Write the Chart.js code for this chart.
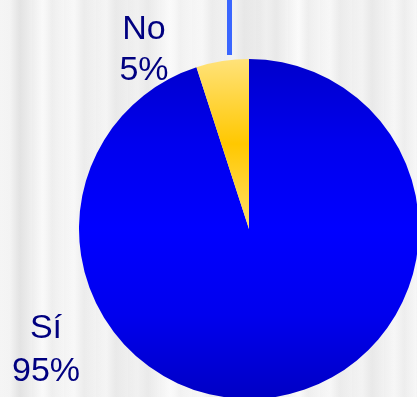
<!DOCTYPE html>
<html>
<head>
<meta charset="utf-8">
<script src="https://cdn.jsdelivr.net/npm/chart.js@4/dist/chart.umd.min.js"></script>
<style>
  html, body { margin: 0; padding: 0; }
  #stage {
    position: relative;
    width: 417px;
    height: 397px;
    overflow: hidden;
    background:
      linear-gradient(90deg, rgba(255,255,255,0) 0px, rgba(200,200,200,0.3) 20px, rgba(255,255,255,0) 45px,
        rgba(210,210,210,0.25) 140px, rgba(255,255,255,0.2) 175px, rgba(205,205,205,0.3) 260px,
        rgba(255,255,255,0) 300px, rgba(215,215,215,0.25) 370px, rgba(255,255,255,0) 417px),
      repeating-linear-gradient(90deg, #f5f5f5 0px, #fbfbfb 10px, #efefef 20px, #f7f7f7 32px),
      #f3f3f3;
  }
  #pieWrap {
    position: absolute;
    left: 77px;
    top: 57px;
    width: 344px;
    height: 344px;
  }
  .lbl {
    position: absolute;
    font-family: "Liberation Sans", Arial, sans-serif;
    font-size: 34px;
    color: #000080;
    text-align: center;
    width: 100px;
  }
  #lblNo { left: 94px; top: 7px; line-height: 41px; }
  #lblSi { left: -4px; top: 305px; line-height: 43px; }
  #marker {
    position: absolute;
    left: 227px;
    top: 0;
    width: 5px;
    height: 55px;
    background: #3a66ff;
  }
</style>
</head>
<body>
<div id="stage">
  <div id="marker"></div>
  <div id="pieWrap"><canvas id="pie" width="344" height="344"></canvas></div>
  <div class="lbl" id="lblNo"></div>
  <div class="lbl" id="lblSi"></div>
</div>
<script>
const categories = ["Sí", "No"];
const shares = [95, 5];
const shareLabels = ["95%", "5%"];

document.getElementById("lblSi").innerHTML = categories[0] + "<br>" + shareLabels[0];
document.getElementById("lblNo").innerHTML = categories[1] + "<br>" + shareLabels[1];

function sliceFill(context) {
  const chart = context.chart;
  const area = chart.chartArea;
  if (!area) return context.dataIndex === 0 ? "#0000ee" : "#ffcc00";
  const c = chart.ctx;
  const cy = (area.top + area.bottom) / 2;
  const r = 170;
  if (context.dataIndex === 0) {
    const g = c.createLinearGradient(0, cy - r, 0, cy + r);
    g.addColorStop(0, "#0000cc");
    g.addColorStop(0.25, "#0000ee");
    g.addColorStop(0.5, "#0000ff");
    g.addColorStop(0.75, "#0000ee");
    g.addColorStop(1, "#0000c4");
    return g;
  }
  const g = c.createLinearGradient(0, cy - r, 0, cy);
  g.addColorStop(0, "#ffe27a");
  g.addColorStop(0.5, "#ffc800");
  g.addColorStop(1, "#ffe06a");
  return g;
}

new Chart(document.getElementById("pie"), {
  type: "pie",
  data: {
    labels: categories,
    datasets: [{
      data: shares,
      backgroundColor: sliceFill,
      borderWidth: 0,
      hoverOffset: 0,
      radius: 170
    }]
  },
  options: {
    responsive: false,
    animation: false,
    layout: { padding: 0 },
    plugins: {
      legend: { display: false },
      tooltip: { enabled: false }
    }
  }
});
</script>
</body>
</html>
